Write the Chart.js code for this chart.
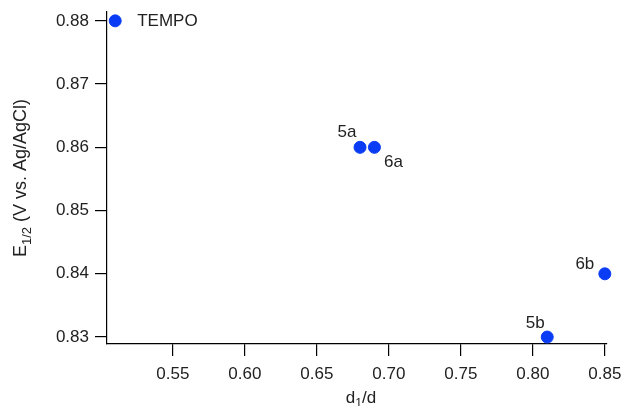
<!DOCTYPE html>
<html>
<head>
<meta charset="utf-8">
<script src="https://cdn.jsdelivr.net/npm/chart.js@4/dist/chart.umd.min.js"></script>
<style>
  html, body { margin: 0; padding: 0; background: #fff; }
  #wrap { width: 624px; height: 406px; }
</style>
</head>
<body>
<div id="wrap"><canvas id="chart" width="624" height="406"></canvas></div>
<script>
'use strict';

// data
const compounds = ['TEMPO', '5a', '6a', '6b', '5b'];
const ratioValues = [0.51, 0.68, 0.69, 0.85, 0.81];      // d1/d
const potentialValues = [0.88, 0.86, 0.86, 0.84, 0.83];  // E1/2 (V vs. Ag/AgCl)
const xTicks = [0.55, 0.60, 0.65, 0.70, 0.75, 0.80, 0.85];
const yTicks = [0.83, 0.84, 0.85, 0.86, 0.87, 0.88];

// label placement relative to each point (px): dx, dy, align
const labelOffsets = [
  [22, 0, 'left'],
  [-13, -15, 'center'],
  [19, 15, 'center'],
  [-20, -9, 'center'],
  [-12, -14, 'center'],
];

const FONT = '"Liberation Sans", Arial, sans-serif';
const TEXT = '#222';
const BLUE = '#0a3cf5';

function drawSubText(ctx, parts, x, y, size) {
  // parts: [text, isSub]
  let total = 0;
  parts.forEach(function (p) {
    ctx.font = (p[1] ? size * 0.72 : size) + 'px ' + FONT;
    total += ctx.measureText(p[0]).width;
  });
  let cx = x - total / 2;
  ctx.textAlign = 'left';
  ctx.textBaseline = 'alphabetic';
  parts.forEach(function (p) {
    ctx.font = (p[1] ? size * 0.72 : size) + 'px ' + FONT;
    ctx.fillText(p[0], cx, p[1] ? y + size * 0.25 : y);
    cx += ctx.measureText(p[0]).width;
  });
}

const annotations = {
  id: 'annotations',
  afterDatasetsDraw: function (chart) {
    const ctx = chart.ctx;
    const xs = chart.scales.x;
    const ys = chart.scales.y;
    ctx.save();
    ctx.fillStyle = TEXT;
    ctx.font = '17px ' + FONT;
    ctx.textBaseline = 'middle';
    compounds.forEach(function (name, i) {
      const px = xs.getPixelForValue(ratioValues[i]);
      const py = ys.getPixelForValue(potentialValues[i]);
      const o = labelOffsets[i];
      ctx.textAlign = o[2];
      ctx.fillText(name, px + o[0], py + o[1]);
    });

    // axis titles
    const midX = (chart.chartArea.left + chart.chartArea.right) / 2;
    drawSubText(ctx, [['d', false], ['1', true], ['/d', false]], midX + 4, 403, 17);

    ctx.translate(26, 178);
    ctx.rotate(-Math.PI / 2);
    drawSubText(ctx, [['E', false], ['1/2', true], [' (V vs. Ag/AgCl)', false]], 0, 0, 18);
    ctx.restore();
  }
};

const ctx = document.getElementById('chart').getContext('2d');
new Chart(ctx, {
  type: 'scatter',
  data: {
    datasets: [{
      data: ratioValues.map(function (v, i) { return { x: v, y: potentialValues[i] }; }),
      backgroundColor: BLUE,
      borderColor: BLUE,
      pointRadius: 6,
      pointHoverRadius: 6,
      clip: false,
    }],
  },
  options: {
    responsive: false,
    animation: false,
    events: [],
    layout: { padding: { left: 0, top: 12, right: 0, bottom: 0 } },
    plugins: {
      legend: { display: false },
      tooltip: { enabled: false },
    },
    scales: {
      x: {
        type: 'linear',
        min: 0.5043,
        max: 0.8515,
        afterBuildTicks: function (scale) {
          scale.ticks = xTicks.map(function (v) { return { value: v }; });
        },
        afterFit: function (scale) {
          scale.height = 62;
          scale.paddingLeft = 0;
          scale.paddingRight = 17;
        },
        border: { display: true, color: '#000', width: 1.2 },
        grid: { drawOnChartArea: false, drawTicks: true, tickLength: 12, color: '#000', lineWidth: 1.2 },
        ticks: {
          color: TEXT,
          padding: 8,
          maxRotation: 0,
          font: { family: FONT, size: 17 },
          callback: function (v) { return v.toFixed(2); },
        },
      },
      y: {
        type: 'linear',
        min: 0.8289,
        max: 0.8814,
        afterBuildTicks: function (scale) {
          scale.ticks = yTicks.map(function (v) { return { value: v }; });
        },
        afterFit: function (scale) {
          scale.width = 107;
          scale.paddingTop = 0;
          scale.paddingBottom = 0;
        },
        border: { display: true, color: '#000', width: 1.2 },
        grid: { drawOnChartArea: false, drawTicks: true, tickLength: 12, color: '#000', lineWidth: 1.2 },
        ticks: {
          color: TEXT,
          padding: 6,
          font: { family: FONT, size: 17 },
          callback: function (v) { return v.toFixed(2); },
        },
      },
    },
  },
  plugins: [annotations],
});
</script>
</body>
</html>
